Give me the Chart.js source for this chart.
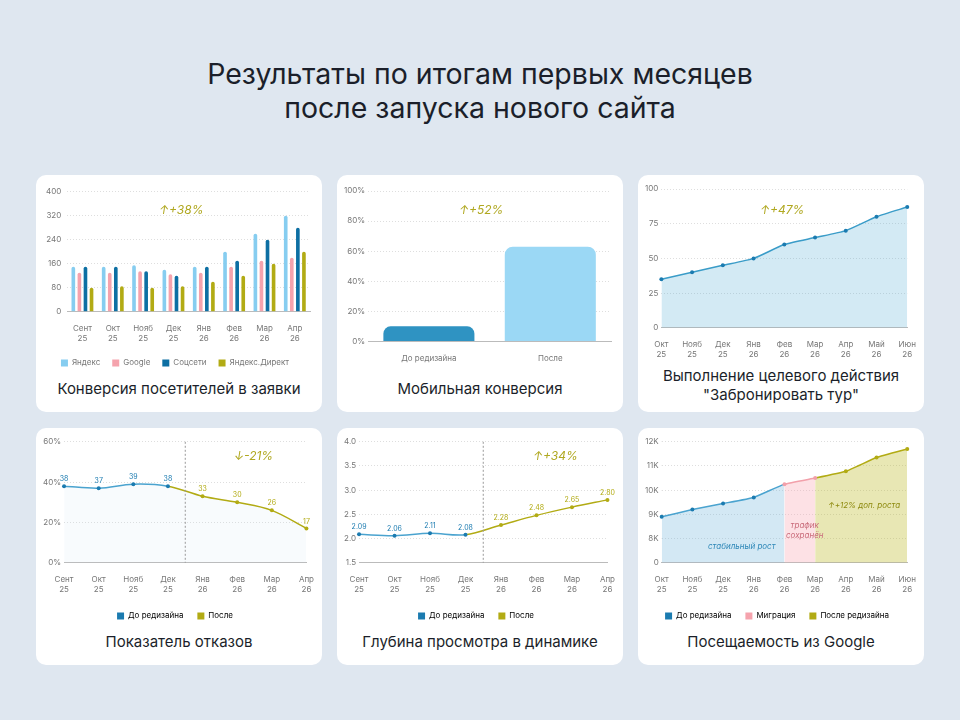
<!DOCTYPE html>
<html><head><meta charset="utf-8">
<script src="https://cdn.jsdelivr.net/npm/chart.js@4"></script>
<style>
body{margin:0;width:960px;height:720px;background:#dfe7f0;font-family:Inter,"Noto Sans",sans-serif;position:relative;overflow:hidden}
h1{position:absolute;top:57px;left:0;width:960px;text-align:center;margin:0;font-weight:400;font-size:28.5px;line-height:34px;color:#1b1f2a}
.card{position:absolute;width:286px;height:237px;background:#fff;border-radius:10px}
.card canvas{position:absolute;left:4px;top:6px}
.cap{position:absolute;bottom:14px;left:0;width:100%;text-align:center;font-size:15px;color:#1b1f2a;line-height:19px}
.note{position:absolute;font-style:italic;font-size:12px;color:#b0a820}
.small{position:absolute;font-style:italic;font-size:8px}
</style></head><body>
<h1>Результаты по итогам первых месяцев<br>после запуска нового сайта</h1>
<div class="card" style="left:36px;top:175px"><canvas id="c1" width="278" height="196"></canvas><div class="note" style="left:123px;top:27px">↑+38%</div><div class="cap">Конверсия посетителей в заявки</div></div>
<div class="card" style="left:337px;top:175px"><canvas id="c2" width="278" height="192"></canvas><div class="note" style="left:122px;top:27px">↑+52%</div><div class="cap">Мобильная конверсия</div></div>
<div class="card" style="left:638px;top:175px"><canvas id="c3" width="278" height="182"></canvas><div class="note" style="left:122px;top:27px">↑+47%</div><div class="cap" style="bottom:8px">Выполнение целевого действия<br>"Забронировать тур"</div></div>
<div class="card" style="left:36px;top:428px"><canvas id="c4" width="278" height="196"></canvas><div class="note" style="left:198px;top:20px">↓-21%</div><div class="cap">Показатель отказов</div></div>
<div class="card" style="left:337px;top:428px"><canvas id="c5" width="278" height="196"></canvas><div class="note" style="left:196px;top:20px">↑+34%</div><div class="cap">Глубина просмотра в динамике</div></div>
<div class="card" style="left:638px;top:428px"><canvas id="c6" width="278" height="196"></canvas>
<div class="small" style="left:70px;top:113px;color:#2f88b8">стабильный рост</div>
<div class="small" style="left:148px;top:92px;color:#c96b7a;text-align:center">трафик<br>сохранён</div>
<div class="small" style="left:190px;top:72px;color:#8e8a10">↑+12% доп. роста</div>
<div class="cap">Посещаемость из Google</div></div>
<script>
const months1 = [['Сент','25'],['Окт','25'],['Нояб','25'],['Дек','25'],['Янв','26'],['Фев','26'],['Мар','26'],['Апр','26']];
const yandex = [150,150,155,140,150,200,260,320];
const google = [130,130,135,125,130,150,170,180];
const social = [150,150,135,120,150,170,240,280];
const direct = [80,85,80,85,100,120,160,200];

const mobileLabels = ['До редизайна','После'];
const mobileValues = [10,63];

const months3 = [['Окт','25'],['Нояб','25'],['Дек','25'],['Янв','26'],['Фев','26'],['Мар','26'],['Апр','26'],['Май','26'],['Июн','26']];
const actionValues = [35,40,45,50,60,65,70,80,87];

const bounceValues = [38,37,39,38,33,30,26,17];
const depthValues = [2.09,2.06,2.11,2.08,2.28,2.48,2.65,2.80];

const googleVisits = [8900,9200,9450,9700,10250,10500,10780,11350,11700];

const BLUE='#1b7bb0', YEL='#b2ab14', PINK='#f5a3ad', LBLUE='#86cdf0';
Chart.defaults.font.family='Inter, "Noto Sans", sans-serif';
Chart.defaults.font.size=8;
Chart.defaults.color='#777';
Chart.defaults.animation=false;
Chart.defaults.responsive=false;
const xAx={grid:{display:false},ticks:{padding:4},border:{color:'#bbb'}};
const yAx=(o)=>Object.assign({grid:{color:'#dedede',tickLength:0},border:{display:false,dash:[1,2]},ticks:{padding:6}},o);
const legend=(extra)=>Object.assign({position:'bottom',labels:{boxWidth:7,boxHeight:7,padding:12,font:{size:8}}},extra||{});

new Chart(c1,{type:'bar',data:{labels:months1,datasets:[
 {label:'Яндекс',data:yandex,backgroundColor:LBLUE},
 {label:'Google',data:google,backgroundColor:PINK},
 {label:'Соцсети',data:social,backgroundColor:'#0d6fa3'},
 {label:'Яндекс.Директ',data:direct,backgroundColor:YEL}]},
 options:{layout:{padding:{top:6,right:8}},datasets:{bar:{barPercentage:0.6,categoryPercentage:0.8,borderRadius:{topLeft:2,topRight:2}}},
 plugins:{legend:legend()},scales:{x:xAx,y:yAx({min:0,max:400,ticks:{stepSize:80,padding:6}})}}});

new Chart(c2,{type:'bar',data:{labels:mobileLabels,datasets:[{data:mobileValues,backgroundColor:['#2f93c2','#9bd8f5'],borderRadius:{topLeft:8,topRight:8},borderSkipped:'bottom',barPercentage:0.75,categoryPercentage:1}]},
 options:{layout:{padding:{top:10,right:8,bottom:6}},plugins:{legend:{display:false}},
 scales:{x:xAx,y:yAx({min:0,max:100,ticks:{stepSize:20,callback:v=>v+'%'}})}}});

new Chart(c3,{type:'line',data:{labels:months3,datasets:[{data:actionValues,borderColor:'#3a9cc8',borderWidth:1.5,pointRadius:2,pointBackgroundColor:BLUE,pointBorderWidth:0,fill:true,backgroundColor:'rgba(80,170,210,0.25)',tension:0.2}]},
 options:{layout:{padding:{top:8,right:8}},plugins:{legend:{display:false}},scales:{x:xAx,y:yAx({min:0,max:100,ticks:{stepSize:25}})}}});

const labelPlugin={id:'vals',afterDatasetsDraw(ch){const ctx=ch.ctx;const m=ch.getDatasetMeta(0);ctx.save();ctx.font='7px Inter';ctx.textAlign='center';
 m.data.forEach((p,i)=>{ctx.fillStyle=i<4?BLUE:YEL;ctx.fillText(ch.data.datasets[0].data[i].toFixed(ch.options.dec||0),p.x,p.y-7);});
 const x=(m.data[3].x+m.data[4].x)/2;ctx.strokeStyle='#999';ctx.setLineDash([2,2]);ctx.beginPath();ctx.moveTo(x,ch.chartArea.top);ctx.lineTo(x,ch.chartArea.bottom);ctx.stroke();ctx.restore();}};
const split=(vals)=>({data:vals,borderWidth:1.5,pointRadius:2,pointBorderWidth:0,tension:0.35,
 pointBackgroundColor:vals.map((v,i)=>i<4?BLUE:YEL),segment:{borderColor:c=>c.p0DataIndex<3?'#4aa3cf':YEL}});
const splitLegend={labels:{boxWidth:7,boxHeight:7,padding:14,font:{size:8},generateLabels:()=>[
 {text:'До редизайна',fillStyle:BLUE,strokeStyle:BLUE,lineWidth:0},{text:'После',fillStyle:YEL,strokeStyle:YEL,lineWidth:0}]}};

new Chart(c4,{type:'line',data:{labels:months1,datasets:[Object.assign(split(bounceValues),{fill:'origin',backgroundColor:'rgba(200,220,235,0.12)'})]},plugins:[labelPlugin],
 options:{dec:0,layout:{padding:{top:6,right:8}},plugins:{legend:legend(splitLegend)},scales:{x:xAx,y:yAx({min:0,max:60,ticks:{stepSize:20,callback:v=>v+'%'}})}}});

new Chart(c5,{type:'line',data:{labels:months1,datasets:[split(depthValues)]},plugins:[labelPlugin],
 options:{dec:2,layout:{padding:{top:6,right:8}},plugins:{legend:legend(splitLegend)},scales:{x:xAx,y:yAx({min:1.5,max:4,ticks:{stepSize:0.5,callback:v=>v.toFixed(1)}})}}});

const segCol=i=>i<4?BLUE:(i<5?'#f2a0aa':YEL);
new Chart(c6,{type:'line',data:{labels:months3,datasets:[{data:googleVisits,borderWidth:1.5,pointRadius:2,pointBorderWidth:0,tension:0.1,fill:'start',
 pointBackgroundColor:googleVisits.map((v,i)=>i<4?BLUE:(i<6?'#f2a0aa':YEL)),
 segment:{borderColor:c=>segCol(c.p0DataIndex)==BLUE?'#4aa3cf':segCol(c.p0DataIndex),
 backgroundColor:c=>c.p0DataIndex<4?'rgba(110,180,220,0.3)':(c.p0DataIndex<5?'rgba(250,170,180,0.35)':'rgba(190,185,40,0.35)')}}]},
 options:{layout:{padding:{top:6,right:8}},plugins:{legend:legend({labels:{boxWidth:7,boxHeight:7,padding:14,font:{size:8},generateLabels:()=>[
 {text:'До редизайна',fillStyle:BLUE,lineWidth:0},{text:'Миграция',fillStyle:PINK,lineWidth:0},{text:'После редизайна',fillStyle:YEL,lineWidth:0}]}})},
 scales:{x:xAx,y:yAx({min:7000,max:12000,ticks:{stepSize:1000,callback:v=>v==7000?'0':(v/1000)+'K'}})}}});
</script></body></html>
